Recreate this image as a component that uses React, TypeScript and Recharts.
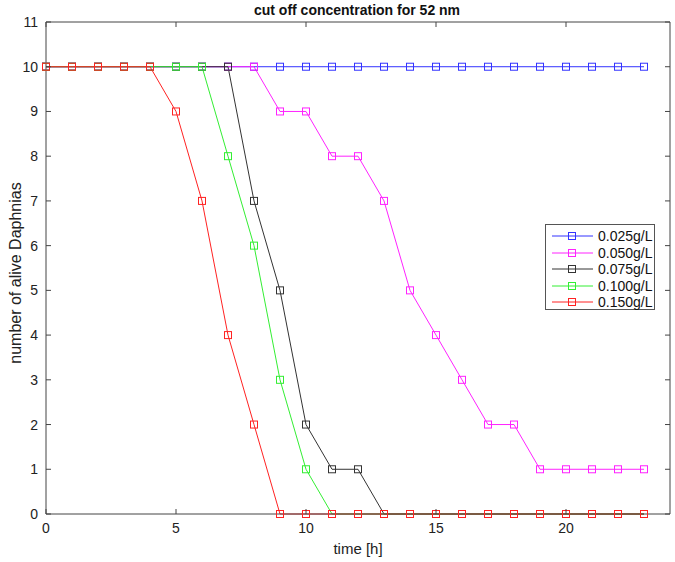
import { LineChart, Line, XAxis, YAxis, Legend, ReferenceLine } from 'recharts';

const hours = [0, 1, 2, 3, 4, 5, 6, 7, 8, 9, 10, 11, 12, 13, 14, 15, 16, 17, 18, 19, 20, 21, 22, 23];

const conc025 = [10, 10, 10, 10, 10, 10, 10, 10, 10, 10, 10, 10, 10, 10, 10, 10, 10, 10, 10, 10, 10, 10, 10, 10];
const conc050 = [10, 10, 10, 10, 10, 10, 10, 10, 10, 9, 9, 8, 8, 7, 5, 4, 3, 2, 2, 1, 1, 1, 1, 1];
const conc075 = [10, 10, 10, 10, 10, 10, 10, 10, 7, 5, 2, 1, 1, 0, 0, 0, 0, 0, 0, 0, 0, 0, 0, 0];
const conc100 = [10, 10, 10, 10, 10, 10, 10, 8, 6, 3, 1, 0, 0, 0, 0, 0, 0, 0, 0, 0, 0, 0, 0, 0];
const conc150 = [10, 10, 10, 10, 10, 9, 7, 4, 2, 0, 0, 0, 0, 0, 0, 0, 0, 0, 0, 0, 0, 0, 0, 0];

const xTicks = [0, 5, 10, 15, 20];
const yTicks = [0, 1, 2, 3, 4, 5, 6, 7, 8, 9, 10, 11];

const series = [
    { key: 'c025', name: '0.025g/L', color: '#3333ff', values: conc025 },
    { key: 'c050', name: '0.050g/L', color: '#ff22ff', values: conc050 },
    { key: 'c075', name: '0.075g/L', color: '#333333', values: conc075 },
    { key: 'c100', name: '0.100g/L', color: '#33ee33', values: conc100 },
    { key: 'c150', name: '0.150g/L', color: '#ff2222', values: conc150 },
];

const data = hours.map((h, i) => {
    const row: any = { t: h };
    series.forEach(s => { row[s.key] = s.values[i]; });
    return row;
});

const W = 675;
const H = 562;
const MARGIN = { top: 22, right: 5, bottom: 0, left: 0 };
const PLOT_TOP = MARGIN.top;
const PLOT_RIGHT = W - MARGIN.right;

const FONT = '"Liberation Sans", Arial, Helvetica, sans-serif';
const AXIS = '#444';
const TICK_LEN = 5;

const SquareDot = (color: string) => (props: any) => {
    const { cx, cy, index } = props;
    if (cx == null || cy == null) return <g key={index} />;
    return <rect key={index} x={cx - 3.5} y={cy - 3.5} width={7} height={7} fill="none" stroke={color} strokeWidth={1} />;
};

// bottom tick: inward tick on the bottom edge and its mirror on the top edge
const BottomTick = (props: any) => {
    const { x, y, payload } = props;
    return (
        <g>
            <line x1={x} y1={y} x2={x} y2={y - TICK_LEN} stroke={AXIS} />
            <line x1={x} y1={PLOT_TOP} x2={x} y2={PLOT_TOP + TICK_LEN} stroke={AXIS} />
            <text x={x} y={y + 19} textAnchor="middle" fontSize={14} fill="#222" fontFamily={FONT}>{payload.value}</text>
        </g>
    );
};

// left tick: inward tick on the left edge and its mirror on the right edge
const LeftTick = (props: any) => {
    const { x, y, payload } = props;
    return (
        <g>
            <line x1={x} y1={y} x2={x + TICK_LEN} y2={y} stroke={AXIS} />
            <line x1={PLOT_RIGHT} y1={y} x2={PLOT_RIGHT - TICK_LEN} y2={y} stroke={AXIS} />
            <text x={x - 8} y={y + 5} textAnchor="end" fontSize={14} fill="#222" fontFamily={FONT}>{payload.value}</text>
        </g>
    );
};

const LegendBox = () => (
    <div style={{ border: '1px solid #555', background: '#fff', width: 110, height: 86, boxSizing: 'border-box', paddingTop: 3 }}>
        {series.map(s => (
            <div key={s.key} style={{ display: 'flex', alignItems: 'center', height: 16.5 }}>
                <svg width={52} height={14} style={{ flex: 'none' }}>
                    <line x1={6} y1={7} x2={47} y2={7} stroke={s.color} strokeWidth={1} />
                    <rect x={22.5} y={3.5} width={7} height={7} fill="none" stroke={s.color} />
                </svg>
                <span style={{ fontFamily: FONT, fontSize: 14, color: '#111', lineHeight: '16px' }}>{s.name}</span>
            </div>
        ))}
    </div>
);

export default function App() {
    return (
        <div style={{ position: 'absolute', left: 0, top: 0, width: W, height: H, background: '#fff' }}>
            <LineChart width={W} height={H} data={data} margin={MARGIN}>
                <XAxis
                    dataKey="t"
                    type="number"
                    domain={[0, 24]}
                    ticks={xTicks}
                    interval={0}
                    height={48}
                    tickSize={0}
                    tickMargin={0}
                    tickLine={false}
                    stroke={AXIS}
                    tick={<BottomTick />}
                    label={{ value: 'time [h]', position: 'insideBottom', offset: 8, fontSize: 15, fill: '#222', fontFamily: FONT }}
                />
                <YAxis
                    type="number"
                    domain={[0, 11]}
                    ticks={yTicks}
                    interval={0}
                    width={46}
                    tickSize={0}
                    tickMargin={0}
                    tickLine={false}
                    stroke={AXIS}
                    tick={<LeftTick />}
                />
                {/* plot box: top and right edges */}
                <ReferenceLine y={11} stroke={AXIS} ifOverflow="visible" />
                <ReferenceLine x={24} stroke={AXIS} ifOverflow="visible" />
                {series.map(s => (
                    <Line
                        key={s.key}
                        dataKey={s.key}
                        name={s.name}
                        type="linear"
                        stroke={s.color}
                        strokeWidth={1}
                        dot={SquareDot(s.color)}
                        activeDot={false}
                        isAnimationActive={false}
                    />
                ))}
                <Legend
                    layout="horizontal"
                    verticalAlign="middle"
                    align="center"
                    content={<LegendBox />}
                    wrapperStyle={{ left: 545, top: 224, width: 110, height: 86 }}
                />
                <text x={357} y={15} textAnchor="middle" fontSize={14} fontWeight="bold" fill="#111" fontFamily={FONT}>
                    cut off concentration for 52 nm
                </text>
                <text x={21} y={273} transform="rotate(-90 21 273)" textAnchor="middle" fontSize={16} fill="#222" fontFamily={FONT}>
                    number of alive Daphnias
                </text>
            </LineChart>
        </div>
    );
}
